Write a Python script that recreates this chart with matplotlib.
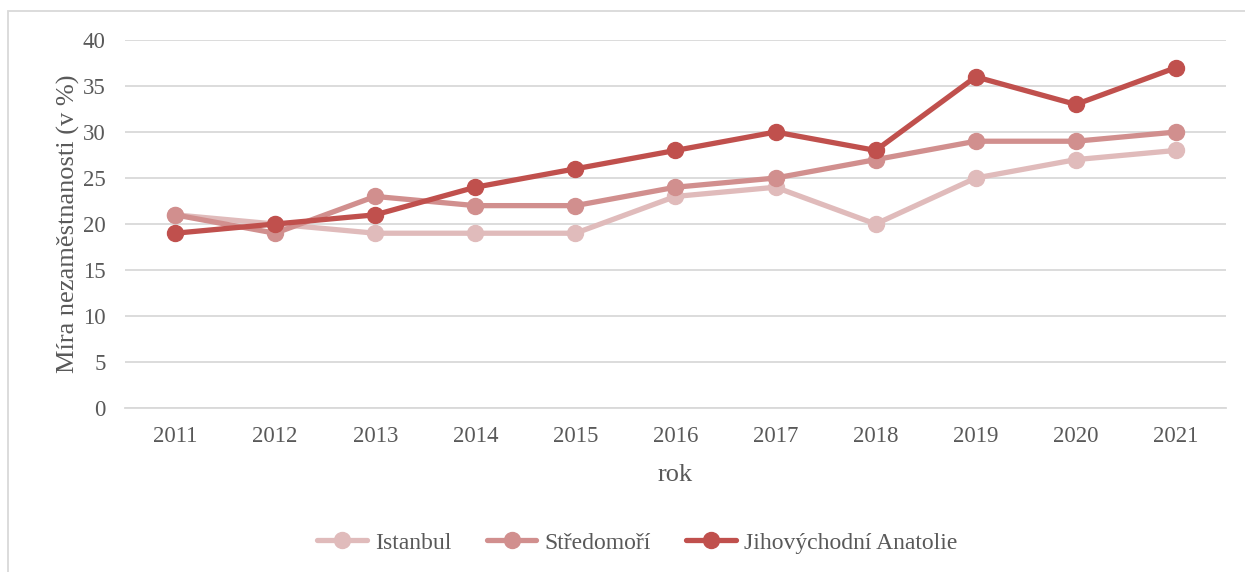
import matplotlib
matplotlib.use('Agg')
import matplotlib.pyplot as plt
from matplotlib.patches import Rectangle

years = ["2011", "2012", "2013", "2014", "2015", "2016", "2017", "2018", "2019", "2020", "2021"]
istanbul = [21, 20, 19, 19, 19, 23, 24, 20, 25, 27, 28]
stredomori = [21, 19, 23, 22, 22, 24, 25, 27, 29, 29, 30]
anatolie = [19, 20, 21, 24, 26, 28, 30, 28, 36, 33, 37]

series = [
    ("Istanbul", istanbul, "#E0BBBB"),
    ("Středomoří", stredomori, "#D18F8E"),
    ("Jihovýchodní Anatolie", anatolie, "#C0504D"),
]

plt.rcParams['font.family'] = ['Liberation Serif', 'DejaVu Serif']
text_color = "#595959"

fig = plt.figure(figsize=(12.45, 5.72), dpi=100)
ax = fig.add_axes([0.1004, 0.2867, 0.8843, 0.6433])

x = list(range(len(years)))
for name, vals, col in series:
    ax.plot(x, vals, color=col, lw=3.8, marker='o', ms=11.5, label=name,
            solid_capstyle='round')

ax.set_xlim(-0.5, len(years) - 0.5)
ax.set_ylim(0, 40)
ax.set_yticks(range(0, 41, 5))
ax.set_xticks(x)
ax.set_xticklabels(years)
ax.grid(axis='y', color="#D9D9D9", lw=1.3)
ax.set_axisbelow(True)
for s in ['top', 'right', 'left']:
    ax.spines[s].set_visible(False)
ax.spines['bottom'].set_color("#D9D9D9")
ax.spines['bottom'].set_linewidth(1.3)
ax.tick_params(length=0, labelsize=16.5, colors=text_color)
ax.tick_params(axis='x', pad=13)
ax.tick_params(axis='y', pad=14)
ax.set_xlabel("rok", fontsize=19, color=text_color, labelpad=12)
ax.set_ylabel("Míra nezaměstnanosti (v %)", fontsize=19, color=text_color, labelpad=2)

leg = fig.legend(loc='center', bbox_to_anchor=(0.512, 0.051), ncol=3, frameon=False,
                 fontsize=17, handlelength=2.1, columnspacing=1.5, handletextpad=0.35)
for t in leg.get_texts():
    t.set_color(text_color)

fig.patches.append(Rectangle((8 / 1245, -0.1), 1.2, 1 - 11 / 572 + 0.1, transform=fig.transFigure,
                             fill=False, edgecolor="#D9D9D9", lw=1.3))

fig.savefig("out.png", dpi=100)
